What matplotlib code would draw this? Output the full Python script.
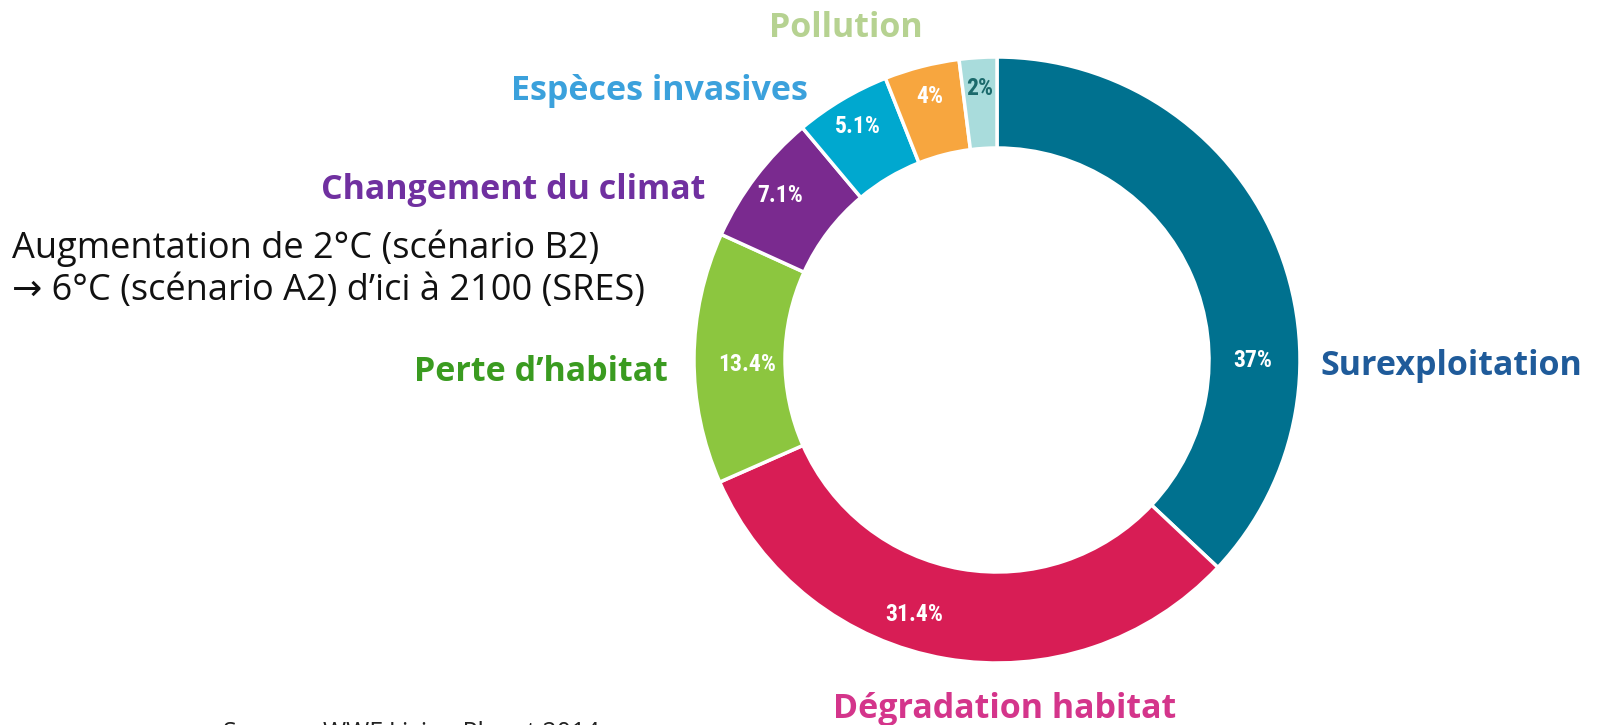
import numpy as np
import matplotlib
matplotlib.use("Agg")
import matplotlib.pyplot as plt

# data
causes = ["Surexploitation", "Dégradation habitat", "Perte d\u2019habitat",
          "Changement du climat", "Espèces invasives", "Pollution", "Pollution (autre)"]
shares = [37, 31.4, 13.4, 7.1, 5.1, 4, 2]
pct_labels = ["37%", "31.4%", "13.4%", "7.1%", "5.1%", "4%", "2%"]
wedge_colors = ["#00718f", "#d81d55", "#8cc63f", "#7a2a8f", "#00a8cf", "#f7a63f", "#a9dcdc"]
pct_colors = ["white"] * 6 + ["#1b6a6c"]
note = ["Augmentation de 2°C (scénario B2)",
        "\u2192 6°C (scénario A2) d\u2019ici à 2100 (SRES)"]
source = "Source : WWF Living Planet 2014"

W, H = 1601, 725
fig = plt.figure(figsize=(W / 100, H / 100), dpi=100)
ax = fig.add_axes([0, 0, 1, 1])

cx, cy, R, ring = 997, H - 360, 303, 91
wedges, _ = ax.pie(shares, startangle=90, counterclock=False, radius=R, center=(cx, cy),
                   colors=wedge_colors,
                   wedgeprops=dict(width=ring, edgecolor="white", linewidth=2.5))
ax.set_xlim(0, W)
ax.set_ylim(0, H)
ax.set_aspect("equal")
ax.axis("off")

# percentage labels: placed like the original (some not at the wedge middle)
narrow = ["Roboto Condensed", "Liberation Sans Narrow", "Roboto", "DejaVu Sans"]
place = {0: (0, 256), 1: (252, 268), 2: (181, 250)}
for i, (w, lab, c) in enumerate(zip(wedges, pct_labels, pct_colors)):
    ang, r = place.get(i, ((w.theta1 + w.theta2) / 2, 272))
    a = np.deg2rad(ang)
    ax.text(cx + r * np.cos(a), cy + r * np.sin(a), lab, ha="center", va="center",
            color=c, fontsize=17, fontweight="bold", family=narrow)

lab_font = ["Open Sans", "DejaVu Sans"]
def label(x, y, s, color, ha):
    ax.text(x, H - y, s, ha=ha, va="baseline", color=color, fontsize=24.5,
            fontweight="bold", family=lab_font)

label(1320, 375, causes[0], "#1f5b9a", "left")
label(1005, 718, causes[1], "#d4358b", "center")
label(668, 381, causes[2], "#3a9b20", "right")
label(705, 199, causes[3], "#7030a0", "right")
label(808, 100, causes[4], "#3ba1dc", "right")
label(846, 37, causes[5], "#b6d291", "center")

ax.text(12, H - 258, note[0], ha="left", va="baseline", fontsize=26, color="#111111",
        family=["Open Sans", "DejaVu Sans"])
ax.text(12, H - 300, note[1], ha="left", va="baseline", fontsize=26, color="#111111",
        family=["Open Sans", "DejaVu Sans"])
ax.text(223, H - 740, source, ha="left", va="baseline",
        fontsize=18, color="#222222", family=["Open Sans", "DejaVu Sans"])

fig.savefig("out.png", dpi=100)
